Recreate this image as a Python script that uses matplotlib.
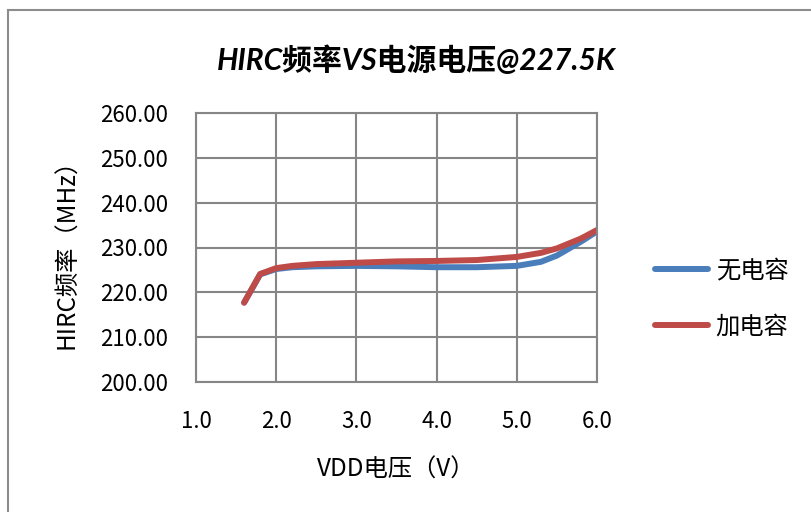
import numpy as np
import matplotlib.pyplot as plt
from matplotlib.patches import Rectangle

plt.rcParams['font.family'] = ['Noto Sans CJK SC', 'DejaVu Sans']

# data
vdd = [1.6, 1.8, 2.0, 2.2, 2.5, 3.0, 3.5, 4.0, 4.5, 5.0, 5.3, 5.5, 5.8, 6.0]
no_cap = [217.7, 224.0, 225.2, 225.6, 225.8, 225.9, 225.8, 225.6, 225.6, 225.9, 226.8, 228.2, 231.3, 233.6]
with_cap = [217.7, 224.1, 225.4, 225.9, 226.3, 226.6, 226.9, 227.0, 227.2, 227.9, 228.8, 229.8, 232.0, 233.9]

title = 'HIRC频率VS电源电压@227.5K'
xlabel = 'VDD电压（V）'
ylabel = 'HIRC频率（MHz）'
names = ['无电容', '加电容']
colors = ['#4A7EBB', '#BE4B48']

fig = plt.figure(figsize=(8.11, 5.12), dpi=100)
# outer chart frame
fig.patches.append(Rectangle((8 / 811, -0.1), 1.1, 1 - 10 / 512 + 0.1, transform=fig.transFigure,
                             fill=False, edgecolor='#8c8c8c', linewidth=1.5))

ax = fig.add_axes([196 / 811, 1 - 382 / 512, 401 / 811, 269 / 512])

for y, c, n in zip([no_cap, with_cap], colors, names):
    ax.plot(vdd, y, color=c, linewidth=4.3, solid_capstyle='round', solid_joinstyle='round', label=n)

ax.set_xlim(1.0, 6.0)
ax.set_ylim(200, 260)
ax.set_xticks(np.arange(1.0, 6.01, 1.0))
ax.set_yticks(np.arange(200, 260.1, 10))
ax.xaxis.set_major_formatter(plt.FormatStrFormatter('%.1f'))
ax.yaxis.set_major_formatter(plt.FormatStrFormatter('%.2f'))
ax.tick_params(length=0, labelsize=16, pad=20)
ax.tick_params(axis='y', pad=20)
ax.grid(True, color='#868686', linewidth=1.5)
for s in ax.spines.values():
    s.set_color('#868686')
    s.set_linewidth(1.5)

ax.set_xlabel(xlabel, fontsize=17.5, labelpad=17)
ax.set_ylabel(ylabel, fontsize=17.5, labelpad=14)
fig.text(416 / 811, 1 - 60 / 512, title, fontsize=21.5, fontweight='bold', style='italic',
         family=['Lato', 'Noto Sans CJK SC'], ha='center', va='center')

ax.legend(loc='center left', bbox_to_anchor=(1.09, 0.31), frameon=False, fontsize=17.5,
          handlelength=2.2, labelspacing=1.25, handletextpad=0.3)

fig.savefig('out.png', dpi=100)
